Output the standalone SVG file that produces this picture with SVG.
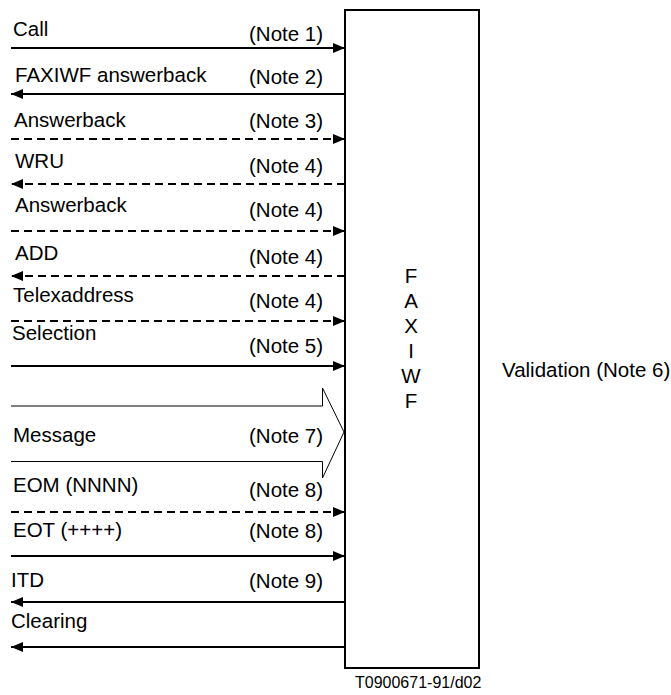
<svg xmlns="http://www.w3.org/2000/svg" width="671" height="695" viewBox="0 0 671 695">
<style>
text{font-family:"Liberation Sans",Arial,sans-serif;font-size:20.5px;fill:#000}
.s{stroke:#000;stroke-width:2;fill:none}
.d{stroke:#000;stroke-width:2;fill:none;stroke-dasharray:8 5}
.c{text-anchor:middle}
</style>
<defs>
<marker id="ah" viewBox="0 0 12 10" refX="12" refY="5" markerWidth="12" markerHeight="10" markerUnits="userSpaceOnUse" orient="auto">
<path d="M0,0 L12,5 L0,10 z" fill="#000"/>
</marker>
</defs>
<rect width="671" height="695" fill="#fff"/>
<g id="faxiwf">
<rect x="345" y="10" width="134" height="658" fill="#fff" stroke="#000" stroke-width="2"/>
<text class="c" x="411" y="283">F</text>
<text class="c" x="411" y="308">A</text>
<text class="c" x="411" y="333">X</text>
<text class="c" x="411" y="358">I</text>
<text class="c" x="411" y="383">W</text>
<text class="c" x="411" y="408">F</text>
</g>
<g id="connectors">
<line class="s" x1="11" y1="48" x2="345" y2="48" marker-end="url(#ah)"/>
<line class="s" x1="345" y1="94" x2="11" y2="94" marker-end="url(#ah)"/>
<line class="d" x1="11" y1="139" x2="345" y2="139" marker-end="url(#ah)"/>
<line class="d" x1="345" y1="184" x2="11" y2="184" marker-end="url(#ah)"/>
<line class="d" x1="11" y1="231" x2="345" y2="231" marker-end="url(#ah)"/>
<line class="d" x1="345" y1="276" x2="11" y2="276" marker-end="url(#ah)"/>
<line class="d" x1="11" y1="321" x2="345" y2="321" marker-end="url(#ah)"/>
<line class="s" x1="11" y1="366" x2="345" y2="366" marker-end="url(#ah)"/>
<path d="M11,406 H322.5 V388 L344,432 L322.5,478 V461.5 H11" fill="none" stroke="#000" stroke-width="1"/>
<line class="d" x1="11" y1="512" x2="345" y2="512" marker-end="url(#ah)"/>
<line class="s" x1="11" y1="556" x2="345" y2="556" marker-end="url(#ah)"/>
<line class="s" x1="345" y1="602" x2="11" y2="602" marker-end="url(#ah)"/>
<line class="s" x1="345" y1="647" x2="11" y2="647" marker-end="url(#ah)"/>
</g>
<g id="labels">
<text x="13" y="36">Call</text>
<text x="249" y="41">(Note 1)</text>
<text x="15" y="82">FAXIWF answerback</text>
<text x="249" y="84">(Note 2)</text>
<text x="14" y="127">Answerback</text>
<text x="249" y="128">(Note 3)</text>
<text x="15" y="168">WRU</text>
<text x="249" y="173">(Note 4)</text>
<text x="15" y="212">Answerback</text>
<text x="249" y="217">(Note 4)</text>
<text x="15" y="260">ADD</text>
<text x="249" y="264">(Note 4)</text>
<text x="13" y="302">Telexaddress</text>
<text x="249" y="308">(Note 4)</text>
<text x="12" y="340">Selection</text>
<text x="249" y="353">(Note 5)</text>
<text x="13" y="442">Message</text>
<text x="249" y="443">(Note 7)</text>
<text x="13" y="492">EOM (NNNN)</text>
<text x="249" y="497">(Note 8)</text>
<text x="13" y="537">EOT (++++)</text>
<text x="249" y="538">(Note 8)</text>
<text x="11" y="587">ITD</text>
<text x="249" y="588">(Note 9)</text>
<text x="11" y="628">Clearing</text>
<text x="502" y="377">Validation (Note 6)</text>
<text x="355" y="688" style="font-size:16px">T0900671-91/d02</text>
</g>
</svg>
